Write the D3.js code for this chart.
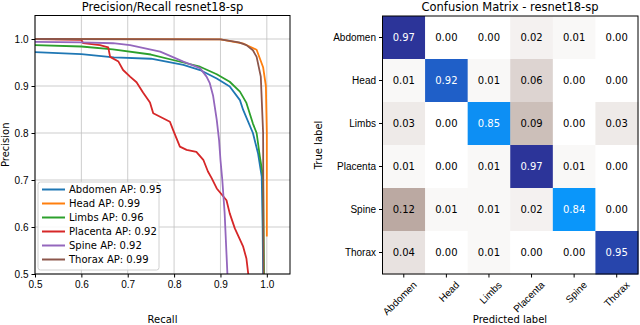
<!DOCTYPE html>
<html>
<head>
<meta charset="utf-8">
<script src="https://cdn.jsdelivr.net/npm/d3@7"></script>
<style>
  body { margin: 0; background: #fff; }
  svg { font-family: "DejaVu Sans", sans-serif; }
  .grid line { stroke: #c0c0c0; stroke-width: 0.8; }
  .axis text { font-size: 10px; fill: #000; }
  .axis path { display: none; }
  .axis line { stroke: #000; }
</style>
</head>
<body>
<script>
// class names and AP values from the legend
var classes = ['Abdomen', 'Head', 'Limbs', 'Placenta', 'Spine', 'Thorax'];
var apScores = [0.95, 0.99, 0.96, 0.92, 0.92, 0.99];
var lineColors = ['#1f77b4', '#ff7f0e', '#2ca02c', '#d62728', '#9467bd', '#8c564b'];

// precision / recall points
var recallAbdomen = [0.5, 0.6, 0.67, 0.75, 0.82, 0.856, 0.892, 0.92, 0.942, 0.949, 0.97, 0.981, 0.989, 0.991, 0.992];
var precisionAbdomen = [0.972, 0.968, 0.961, 0.958, 0.945, 0.934, 0.916, 0.899, 0.87, 0.849, 0.80, 0.757, 0.707, 0.6, 0.5];

var recallHead = [0.5, 0.9, 0.95, 0.978, 0.992, 0.998, 1.0, 1.0];
var precisionHead = [1.0, 0.999, 0.99, 0.977, 0.94, 0.90, 0.8, 0.58];

var recallLimbs = [0.5, 0.6, 0.668, 0.75, 0.82, 0.856, 0.892, 0.92, 0.942, 0.956, 0.97, 0.978, 0.985, 0.992, 0.993, 0.994];
var precisionLimbs = [0.987, 0.984, 0.978, 0.967, 0.95, 0.941, 0.925, 0.909, 0.888, 0.864, 0.82, 0.80, 0.75, 0.706, 0.6, 0.5];

var recallPlacenta = [0.5, 0.6, 0.604, 0.64, 0.658, 0.662, 0.68, 0.69, 0.705, 0.719, 0.733, 0.748, 0.755, 0.791, 0.798, 0.8125, 0.827, 0.848, 0.863, 0.873, 0.881, 0.892, 0.913, 0.92, 0.931, 0.949, 0.956, 0.96];
var precisionPlacenta = [1.0, 0.998, 0.991, 0.987, 0.982, 0.962, 0.952, 0.934, 0.92, 0.908, 0.886, 0.865, 0.842, 0.824, 0.806, 0.771, 0.764, 0.76, 0.743, 0.718, 0.704, 0.682, 0.657, 0.629, 0.597, 0.558, 0.533, 0.5];

var recallSpine = [0.5, 0.6, 0.668, 0.705, 0.77, 0.82, 0.856, 0.87, 0.877, 0.884, 0.892, 0.897, 0.90, 0.904, 0.909, 0.915];
var precisionSpine = [0.994, 0.993, 0.991, 0.987, 0.973, 0.952, 0.938, 0.92, 0.906, 0.88, 0.828, 0.785, 0.743, 0.70, 0.63, 0.5];

var recallThorax = [0.5, 0.9, 0.94, 0.956, 0.97, 0.978, 0.987, 0.992, 0.993];
var precisionThorax = [1.0, 0.999, 0.993, 0.987, 0.976, 0.962, 0.92, 0.8, 0.5];

var recalls = [recallAbdomen, recallHead, recallLimbs, recallPlacenta, recallSpine, recallThorax];
var precisions = [precisionAbdomen, precisionHead, precisionLimbs, precisionPlacenta, precisionSpine, precisionThorax];

var prTicks = [0.5, 0.6, 0.7, 0.8, 0.9, 1.0];

// confusion matrix, rows = true label, columns = predicted label
var cmAbdomen = [0.97, 0.00, 0.00, 0.02, 0.01, 0.00];
var cmHead = [0.01, 0.92, 0.01, 0.06, 0.00, 0.00];
var cmLimbs = [0.03, 0.00, 0.85, 0.09, 0.00, 0.03];
var cmPlacenta = [0.01, 0.00, 0.01, 0.97, 0.01, 0.00];
var cmSpine = [0.12, 0.01, 0.01, 0.02, 0.84, 0.00];
var cmThorax = [0.04, 0.00, 0.01, 0.00, 0.00, 0.95];
var cmRows = [cmAbdomen, cmHead, cmLimbs, cmPlacenta, cmSpine, cmThorax];

var WIDTH = 640, HEIGHT = 325;

var svg = d3.select('body').append('svg')
    .attr('width', WIDTH)
    .attr('height', HEIGHT);

// ---------- left: precision / recall ----------
var x = d3.scaleLinear().domain([0.5, 1.05]).range([35, 290]);
var y = d3.scaleLinear().domain([0.5, 1.05]).range([274, 15.5]);

svg.append('defs').append('clipPath').attr('id', 'prClip')
  .append('rect')
    .attr('x', x(0.5)).attr('y', y(1.05))
    .attr('width', x(1.05) - x(0.5)).attr('height', y(0.5) - y(1.05));

var grid = svg.append('g').attr('class', 'grid');
grid.selectAll('.gx').data(prTicks).enter().append('line')
    .attr('x1', x).attr('x2', x)
    .attr('y1', y(0.5)).attr('y2', y(1.05));
grid.selectAll('.gy').data(prTicks).enter().append('line')
    .attr('x1', x(0.5)).attr('x2', x(1.05))
    .attr('y1', y).attr('y2', y);

var line = d3.line()
    .x(function (d) { return x(d[0]); })
    .y(function (d) { return y(d[1]); });

svg.append('g').attr('clip-path', 'url(#prClip)')
  .selectAll('path')
  .data(classes)
  .enter()
  .append('path')
    .attr('fill', 'none')
    .attr('stroke', function (d, i) { return lineColors[i]; })
    .attr('stroke-width', 1.8)
    .attr('stroke-linejoin', 'round')
    .attr('d', function (d, i) { return line(d3.zip(recalls[i], precisions[i])); });

svg.append('g').attr('class', 'axis')
    .attr('transform', 'translate(0,' + y(0.5) + ')')
    .call(d3.axisBottom(x).tickValues(prTicks).tickFormat(d3.format('.1f')).tickSize(3.5).tickPadding(3));
svg.append('g').attr('class', 'axis')
    .attr('transform', 'translate(' + x(0.5) + ',0)')
    .call(d3.axisLeft(y).tickValues(prTicks).tickFormat(d3.format('.1f')).tickSize(3.5).tickPadding(3));

svg.append('rect')
    .attr('x', x(0.5)).attr('y', y(1.05))
    .attr('width', x(1.05) - x(0.5)).attr('height', y(0.5) - y(1.05))
    .attr('fill', 'none').attr('stroke', '#000').attr('stroke-width', 1);

svg.append('text')
    .attr('x', (x(0.5) + x(1.05)) / 2).attr('y', 11)
    .attr('text-anchor', 'middle').attr('font-size', 11.5)
    .text('Precision/Recall resnet18-sp');
svg.append('text')
    .attr('x', (x(0.5) + x(1.05)) / 2).attr('y', 323)
    .attr('text-anchor', 'middle').attr('font-size', 10)
    .text('Recall');
svg.append('text')
    .attr('transform', 'translate(9,' + ((y(0.5) + y(1.05)) / 2) + ') rotate(-90)')
    .attr('text-anchor', 'middle').attr('font-size', 10)
    .text('Precision');

// legend
var legend = svg.append('g').attr('transform', 'translate(38,182)');
legend.append('rect')
    .attr('width', 121).attr('height', 88)
    .attr('rx', 2.5)
    .attr('fill', '#fff').attr('fill-opacity', 0.85)
    .attr('stroke', '#d0d0d0');
var entries = legend.selectAll('g.entry')
    .data(classes)
    .enter()
    .append('g')
    .attr('class', 'entry')
    .attr('transform', function (d, i) { return 'translate(0,' + (7.5 + i * 14) + ')'; });
entries.append('line')
    .attr('x1', 4).attr('x2', 27)
    .attr('stroke', function (d, i) { return lineColors[i]; })
    .attr('stroke-width', 2);
entries.append('text')
    .attr('x', 31).attr('dy', '0.35em')
    .attr('font-size', 10)
    .text(function (d, i) { return d + ' AP: ' + apScores[i].toFixed(2); });

// ---------- right: confusion matrix ----------
var cx = d3.scaleBand().domain(classes).range([382.5, 638]);
var cy = d3.scaleBand().domain(classes).range([16, 274]);

var cellColor = d3.scaleLinear()
    .domain([0, 0.12, 0.84, 0.92, 0.97])
    .range(['#ffffff', '#bba9a2', '#0a96fa', '#1f5fc8', '#2c3499'])
    .clamp(true);

var cells = [];
cmRows.forEach(function (row, i) {
    row.forEach(function (v, j) {
        cells.push({ row: classes[i], col: classes[j], value: v });
    });
});

var cellG = svg.append('g').selectAll('g.cell')
    .data(cells)
    .enter()
    .append('g')
    .attr('class', 'cell');
cellG.append('rect')
    .attr('x', function (d) { return cx(d.col); })
    .attr('y', function (d) { return cy(d.row); })
    .attr('width', cx.bandwidth() + 0.5)
    .attr('height', cy.bandwidth() + 0.5)
    .attr('fill', function (d) { return cellColor(d.value); });
cellG.append('text')
    .attr('x', function (d) { return cx(d.col) + cx.bandwidth() / 2; })
    .attr('y', function (d) { return cy(d.row) + cy.bandwidth() / 2; })
    .attr('dy', '0.35em')
    .attr('text-anchor', 'middle')
    .attr('font-size', 10)
    .attr('fill', function (d) { return d.value > 0.5 ? '#fff' : '#000'; })
    .text(function (d) { return d.value.toFixed(2); });

svg.append('rect')
    .attr('x', 382.5).attr('y', 16)
    .attr('width', 638 - 382.5).attr('height', 274 - 16)
    .attr('fill', 'none').attr('stroke', '#000');

var rowAxis = svg.append('g').attr('class', 'axis')
    .attr('transform', 'translate(382.5,0)')
    .call(d3.axisLeft(cy).tickSize(3.5).tickPadding(3));

var colAxis = svg.append('g').attr('class', 'axis')
    .attr('transform', 'translate(0,274)')
    .call(d3.axisBottom(cx).tickSize(3.5).tickPadding(3));
colAxis.selectAll('text')
    .attr('text-anchor', 'end')
    .attr('dy', null)
    .attr('transform', 'translate(9,7) rotate(-45)');

svg.append('text')
    .attr('x', 510).attr('y', 11)
    .attr('text-anchor', 'middle').attr('font-size', 11.5)
    .text('Confusion Matrix - resnet18-sp');
svg.append('text')
    .attr('x', 510).attr('y', 323)
    .attr('text-anchor', 'middle').attr('font-size', 10)
    .text('Predicted label');
svg.append('text')
    .attr('transform', 'translate(322,145) rotate(-90)')
    .attr('text-anchor', 'middle').attr('font-size', 10)
    .text('True label');
</script>
</body>
</html>
